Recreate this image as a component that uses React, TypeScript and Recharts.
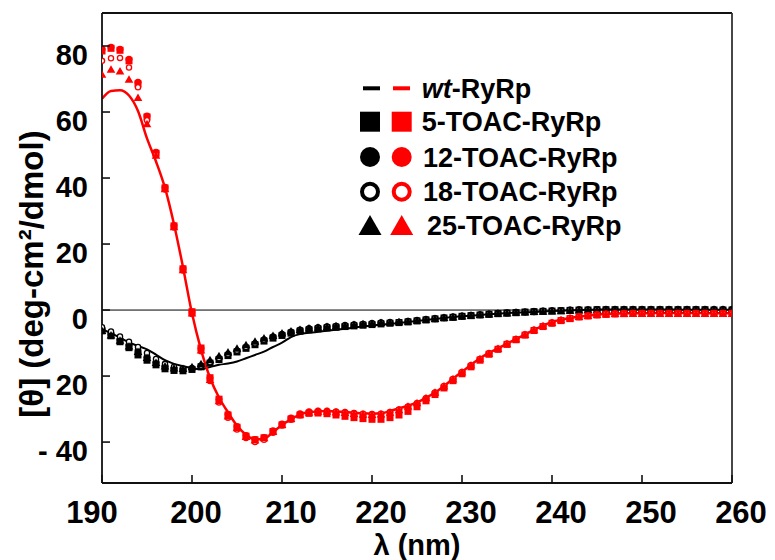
import React from 'react';
import { ComposedChart, Line, Scatter, XAxis, YAxis, ReferenceLine } from 'recharts';

// wavelength grid, nm
const WAVELENGTHS = [
  190, 191, 192, 193, 194, 195, 196, 197, 198, 199,
  200, 201, 202, 203, 204, 205, 206, 207, 208, 209,
  210, 211, 212, 213, 214, 215, 216, 217, 218, 219,
  220, 221, 222, 223, 224, 225, 226, 227, 228, 229,
  230, 231, 232, 233, 234, 235, 236, 237, 238, 239,
  240, 241, 242, 243, 244, 245, 246, 247, 248, 249,
  250, 251, 252, 253, 254, 255, 256, 257, 258, 259,
  260,
];

// black set
const BLACK_WT = [
  -5.9, -7.0, -8.4, -9.8, -10.9, -11.9, -13.5, -15.2, -16.3, -17.0,
  -17.6, -17.9, -17.3, -16.6, -16.2, -15.6, -14.6, -13.6, -12.6, -11.2,
  -9.9, -8.2, -7.3, -6.9, -6.6, -6.3, -6.0, -5.7, -5.3, -5.0,
  -4.7, -4.4, -4.2, -3.9, -3.6, -3.3, -3.0, -2.7, -2.4, -2.1,
  -1.9, -1.7, -1.5, -1.3, -1.1, -0.9, -0.8, -0.7, -0.6, -0.4,
  -0.3, -0.2, -0.1, 0.0, 0.1, 0.1, 0.2, 0.2, 0.2, 0.2,
  0.2, 0.2, 0.2, 0.2, 0.1, 0.1, 0.1, 0.1, 0.1, 0.1,
  0.1,
];
const BLACK_5 = [
  -6.3, -7.8, -9.6, -11.4, -13.6, -15.2, -16.6, -17.8, -18.3, -18.4,
  -18.0, -17.2, -16.1, -15.0, -13.8, -12.7, -11.6, -10.5, -9.4, -8.5,
  -7.7, -7.0, -6.4, -6.0, -5.7, -5.4, -5.2, -5.0, -4.8, -4.6,
  -4.4, -4.2, -4.0, -3.8, -3.6, -3.3, -3.0, -2.7, -2.4, -2.2,
  -1.9, -1.7, -1.5, -1.3, -1.1, -0.9, -0.8, -0.6, -0.5, -0.4,
  -0.3, -0.2, -0.1, 0.0, 0.0, 0.1, 0.1, 0.1, 0.1, 0.1,
  0.1, 0.1, 0.1, 0.1, 0.1, 0.1, 0.1, 0.1, 0.0, 0.0,
  0.0,
];
const BLACK_12 = [
  -6.0, -7.4, -9.0, -10.6, -12.3, -14.2, -15.8, -17.0, -17.7, -18.0,
  -17.7, -17.0, -15.9, -14.7, -13.5, -12.4, -11.3, -10.2, -9.1, -8.2,
  -7.4, -6.7, -6.1, -5.7, -5.4, -5.1, -4.9, -4.7, -4.5, -4.3,
  -4.1, -3.9, -3.8, -3.7, -3.4, -3.2, -2.9, -2.6, -2.3, -2.1,
  -1.8, -1.6, -1.4, -1.2, -1.0, -0.9, -0.7, -0.6, -0.5, -0.3,
  -0.2, -0.1, 0.0, 0.1, 0.1, 0.2, 0.2, 0.2, 0.2, 0.2,
  0.2, 0.2, 0.2, 0.2, 0.2, 0.2, 0.2, 0.2, 0.2, 0.2,
  0.2,
];
const BLACK_18 = [
  -5.2, -6.5, -8.0, -9.6, -11.2, -13.0, -14.8, -16.3, -17.2, -17.7,
  -17.6, -16.9, -15.8, -14.6, -13.4, -12.3, -11.2, -10.1, -9.0, -8.1,
  -7.3, -6.6, -6.0, -5.6, -5.3, -5.0, -4.8, -4.6, -4.4, -4.2,
  -4.0, -3.8, -3.7, -3.6, -3.4, -3.1, -2.8, -2.5, -2.3, -2.0,
  -1.8, -1.6, -1.4, -1.2, -1.0, -0.8, -0.7, -0.6, -0.4, -0.3,
  -0.2, -0.1, 0.0, 0.1, 0.1, 0.2, 0.2, 0.2, 0.2, 0.2,
  0.2, 0.2, 0.2, 0.2, 0.2, 0.2, 0.2, 0.2, 0.2, 0.2,
  0.2,
];
const BLACK_25 = [
  -6.1, -7.5, -9.1, -10.8, -12.5, -14.3, -15.8, -16.9, -17.5, -17.6,
  -17.1, -16.2, -15.0, -13.8, -12.6, -11.5, -10.4, -9.4, -8.4, -7.6,
  -6.9, -6.3, -5.8, -5.4, -5.1, -4.9, -4.7, -4.5, -4.3, -4.1,
  -3.9, -3.7, -3.6, -3.5, -3.3, -3.0, -2.7, -2.5, -2.2, -2.0,
  -1.7, -1.5, -1.3, -1.1, -0.9, -0.8, -0.6, -0.5, -0.4, -0.3,
  -0.2, -0.1, 0.0, 0.1, 0.2, 0.2, 0.3, 0.3, 0.3, 0.3,
  0.3, 0.3, 0.3, 0.3, 0.3, 0.3, 0.3, 0.3, 0.3, 0.3,
  0.3,
];

// red set
const RED_WT = [
  64.0, 66.4, 66.6, 65.0, 60.3, 52.0, 45.0, 37.0, 26.0, 13.0,
  -1.0, -12.0, -20.5, -26.5, -31.0, -35.0, -37.8, -39.2, -39.0, -37.0,
  -34.8, -33.1, -31.6, -31.0, -30.7, -30.6, -30.7, -30.9, -31.1, -31.3,
  -31.4, -31.3, -30.6, -29.8, -29.0, -28.0, -26.6, -25.0, -23.0, -20.8,
  -18.7, -16.6, -14.6, -13.0, -11.6, -10.2, -8.8, -7.4, -6.0, -4.7,
  -3.6, -2.9, -2.4, -2.0, -1.7, -1.4, -1.2, -1.1, -1.0, -1.0,
  -1.0, -0.9, -0.9, -0.9, -0.9, -0.9, -0.9, -0.9, -1.0, -1.0,
  -1.0,
];
const RED_5 = [
  78.5, 79.3, 78.7, 75.5, 68.5, 58.5, 47.5, 37.0, 25.5, 12.5,
  -0.5, -11.5, -20.5, -27.0, -31.8, -35.5, -38.2, -39.3, -38.7, -36.8,
  -34.8, -33.0, -31.8, -31.3, -31.2, -31.4, -31.8, -32.2, -32.6, -32.9,
  -33.1, -33.1, -32.6, -31.8, -30.7, -29.3, -27.5, -25.6, -23.6, -21.4,
  -19.3, -17.2, -15.2, -13.4, -11.9, -10.4, -9.0, -7.6, -6.2, -5.0,
  -4.0, -3.2, -2.6, -2.1, -1.8, -1.5, -1.3, -1.2, -1.1, -1.0,
  -1.0, -1.0, -1.0, -1.0, -1.0, -1.0, -1.0, -1.0, -1.0, -1.0,
  -1.0,
];
const RED_12 = [
  79.0, 79.6, 79.0, 76.0, 69.0, 58.8, 47.8, 37.2, 25.6, 12.6,
  -0.6, -11.6, -20.6, -27.0, -31.6, -35.3, -38.0, -39.2, -38.6, -36.6,
  -34.5, -32.7, -31.4, -30.8, -30.6, -30.6, -30.8, -31.0, -31.3, -31.5,
  -31.6, -31.5, -31.0, -30.2, -29.3, -28.3, -26.8, -25.1, -23.2, -21.0,
  -18.9, -16.8, -14.9, -13.2, -11.8, -10.3, -8.9, -7.5, -6.1, -4.9,
  -3.9, -3.1, -2.5, -2.0, -1.7, -1.4, -1.2, -1.1, -1.0, -1.0,
  -1.0, -1.0, -1.0, -1.0, -1.0, -1.0, -1.0, -1.0, -1.0, -1.0,
  -1.0,
];
const RED_18 = [
  75.5, 76.3, 76.4, 73.5, 67.5, 57.5, 47.0, 36.5, 25.0, 12.0,
  -1.2, -12.5, -21.5, -28.0, -32.6, -36.2, -38.8, -40.0, -39.3, -37.2,
  -35.0, -33.2, -31.9, -31.2, -30.9, -30.8, -30.9, -31.1, -31.3, -31.5,
  -31.6, -31.5, -31.0, -30.2, -29.3, -28.2, -26.7, -25.0, -23.0, -20.9,
  -18.8, -16.7, -14.8, -13.1, -11.7, -10.2, -8.8, -7.4, -6.0, -4.8,
  -3.8, -3.0, -2.4, -2.0, -1.7, -1.4, -1.2, -1.1, -1.0, -1.0,
  -1.0, -1.0, -1.0, -1.0, -1.0, -1.0, -1.0, -1.0, -1.0, -1.0,
  -1.0,
];
const RED_25 = [
  71.5, 73.0, 72.5, 70.0, 64.5, 56.5, 47.0, 36.8, 25.3, 12.3,
  -0.8, -12.0, -21.0, -27.4, -32.0, -35.6, -38.2, -39.3, -38.6, -36.7,
  -34.6, -32.8, -31.5, -30.9, -30.6, -30.6, -30.8, -31.0, -31.3, -31.5,
  -31.6, -31.4, -30.9, -30.1, -29.1, -28.0, -26.5, -24.8, -22.9, -20.8,
  -18.7, -16.6, -14.7, -13.0, -11.6, -10.1, -8.7, -7.3, -5.9, -4.7,
  -3.7, -2.9, -2.3, -1.9, -1.6, -1.3, -1.1, -1.0, -1.0, -1.0,
  -1.0, -1.0, -1.0, -1.0, -1.0, -1.0, -1.0, -1.0, -1.0, -1.0,
  -1.0,
];

const X_TICKS = [190, 200, 210, 220, 230, 240, 250, 260];
const Y_TICKS = [-40, -20, 0, 20, 40, 60, 80];
const Y_TICK_LABELS = ['- 40', '20', '0', '20', '40', '60', '80'];
const LEGEND_LABELS = ['5-TOAC-RyRp', '12-TOAC-RyRp', '18-TOAC-RyRp', '25-TOAC-RyRp'];

const FONT = '"Liberation Sans", Arial, Helvetica, sans-serif';
const RED = '#ff0000';
const BLACK = '#000000';
const AXIS = '#111111';

// label nudges to match the hand-placed labels of the original figure
const X_LABEL_NUDGE: Record<number, number> = { 190: -10, 200: 4 };

const toPoints = (ys: number[]) => WAVELENGTHS.map((x, i) => ({ x, y: ys[i] }));

type Kind = 'square' | 'dot' | 'ring' | 'tri';

function Marker({ kind, cx, cy, color, size }: { kind: Kind; cx: number; cy: number; color: string; size: number }) {
  const h = size / 2;
  if (kind === 'square') return <rect x={cx - h} y={cy - h} width={size} height={size} fill={color} />;
  if (kind === 'dot') return <circle cx={cx} cy={cy} r={h} fill={color} />;
  if (kind === 'ring')
    return <circle cx={cx} cy={cy} r={h - size * 0.1} fill="#fff" stroke={color} strokeWidth={size * 0.2} />;
  const w = size * 1.15;
  return (
    <polygon
      points={`${cx - w / 2},${cy + h} ${cx + w / 2},${cy + h} ${cx},${cy - h}`}
      fill={color}
    />
  );
}

const SERIES: { key: string; ys: number[]; kind: Kind; color: string }[] = [
  { key: 'b5', ys: BLACK_5, kind: 'square', color: BLACK },
  { key: 'b12', ys: BLACK_12, kind: 'dot', color: BLACK },
  { key: 'b18', ys: BLACK_18, kind: 'ring', color: BLACK },
  { key: 'b25', ys: BLACK_25, kind: 'tri', color: BLACK },
  { key: 'r5', ys: RED_5, kind: 'square', color: RED },
  { key: 'r12', ys: RED_12, kind: 'dot', color: RED },
  { key: 'r18', ys: RED_18, kind: 'ring', color: RED },
  { key: 'r25', ys: RED_25, kind: 'tri', color: RED },
];

const XTick = (props: any) => {
  const { x, y, payload } = props;
  const v = payload.value as number;
  const dx = X_LABEL_NUDGE[v] ?? 9;
  return (
    <g>
      <line x1={x} x2={x} y1={y} y2={y - 8} stroke={AXIS} strokeWidth={1.6} />
      <text x={x + dx} y={y + 40} textAnchor="middle" fontFamily={FONT} fontWeight="bold" fontSize={31} fill="#000">
        {v}
      </text>
    </g>
  );
};

const YTick = (props: any) => {
  const { x, y, payload } = props;
  const i = Y_TICKS.indexOf(payload.value);
  return (
    <g>
      <line x1={x} x2={x + 8} y1={y} y2={y} stroke={AXIS} strokeWidth={1.6} />
      <text x={x - 14} y={y + 19} textAnchor="end" fontFamily={FONT} fontWeight="bold" fontSize={29} fill="#000">
        {Y_TICK_LABELS[i]}
      </text>
    </g>
  );
};

function LegendBox() {
  const rows = [113.7, 149, 183.7, 217];
  const textX = [413.7, 415, 415, 419];
  const kinds: Kind[] = ['square', 'dot', 'ring', 'tri'];
  return (
    <g fontFamily={FONT} fontWeight="bold" fontSize={27}>
      <line x1={355} x2={372} y1={80.3} y2={80.3} stroke={BLACK} strokeWidth={4} />
      <line x1={385} x2={402} y1={80.3} y2={80.3} stroke={RED} strokeWidth={4} />
      <text x={413.7} y={90}>
        <tspan fontStyle="italic">wt</tspan>
        <tspan>-RyRp</tspan>
      </text>
      {LEGEND_LABELS.map((label, i) => (
        <g key={label}>
          <Marker kind={kinds[i]} cx={362} cy={rows[i]} color={BLACK} size={20} />
          <Marker kind={kinds[i]} cx={393.7} cy={rows[i]} color={RED} size={20} />
          <text x={textX[i]} y={rows[i] + 9.7}>
            {label}
          </text>
        </g>
      ))}
    </g>
  );
}

const MARKER_SIZE: Record<Kind, number> = { square: 7, dot: 7, ring: 6.5, tri: 7.5 };

export default function App() {
  return (
    <ComposedChart width={767} height={552} margin={{ top: 5, right: 43, bottom: 0, left: 0 }}>
      <XAxis
        type="number"
        dataKey="x"
        domain={[190, 260]}
        ticks={X_TICKS}
        allowDataOverflow
        height={77}
        tickSize={0}
        tickMargin={0}
        tickLine={false}
        axisLine={{ stroke: AXIS, strokeWidth: 1.8 }}
        tick={<XTick />}
      />
      <YAxis
        type="number"
        domain={[-52.4, 90]}
        ticks={Y_TICKS}
        allowDataOverflow
        width={94}
        tickSize={0}
        tickMargin={0}
        tickLine={false}
        axisLine={{ stroke: AXIS, strokeWidth: 1.8 }}
        tick={<YTick />}
      />
      <ReferenceLine y={0} stroke="#000" strokeWidth={1} />
      <ReferenceLine y={90} stroke={AXIS} strokeWidth={1.8} />
      <ReferenceLine x={260} stroke="#333" strokeWidth={1.8} />

      {SERIES.slice(0, 4).map((s) => (
        <Scatter
          key={s.key}
          data={toPoints(s.ys)}
          dataKey="y"
          isAnimationActive={false}
          shape={(p: any) => <Marker kind={s.kind} cx={p.cx} cy={p.cy} color={s.color} size={MARKER_SIZE[s.kind]} />}
        />
      ))}
      <Line
        data={toPoints(BLACK_WT)}
        dataKey="y"
        type="monotone"
        stroke={BLACK}
        strokeWidth={2}
        dot={false}
        isAnimationActive={false}
      />
      {SERIES.slice(4).map((s) => (
        <Scatter
          key={s.key}
          data={toPoints(s.ys)}
          dataKey="y"
          isAnimationActive={false}
          shape={(p: any) => <Marker kind={s.kind} cx={p.cx} cy={p.cy} color={s.color} size={MARKER_SIZE[s.kind]} />}
        />
      ))}
      <Line
        data={toPoints(RED_WT)}
        dataKey="y"
        type="monotone"
        stroke={RED}
        strokeWidth={2.5}
        dot={false}
        isAnimationActive={false}
      />

      <LegendBox />
      <text
        transform="translate(23, 266) rotate(-90)"
        textAnchor="middle"
        dominantBaseline="central"
        fontFamily={FONT}
        fontWeight="bold"
        fontSize={33}
      >
        [θ] (deg-cm²/dmol)
      </text>
      <text x={409} y={547} textAnchor="middle" fontFamily={FONT} fontWeight="bold" fontSize={29}>
        λ (nm)
      </text>
    </ComposedChart>
  );
}
